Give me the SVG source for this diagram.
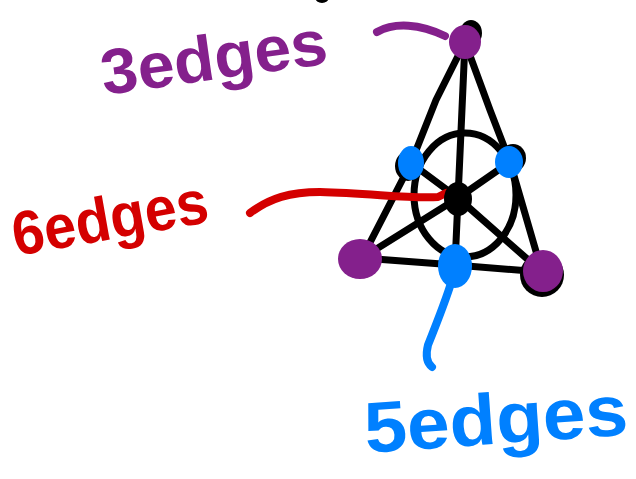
<svg xmlns="http://www.w3.org/2000/svg" width="636" height="479" viewBox="0 0 636 479">
<style>
.edge{fill:none;stroke:#000;stroke-width:7;stroke-linecap:round;stroke-linejoin:round}
.ptr{fill:none;stroke-width:8;stroke-linecap:round;stroke-linejoin:round}
.lbl{font-family:"Liberation Sans",Arial,sans-serif;font-weight:700}
.purple{fill:#84208c}
.blue{fill:#0080ff}
.shadow{fill:#000}
</style>
<rect width="636" height="479" fill="#fff"/>
<g id="connectors">
<ellipse class="edge" cx="465" cy="195" rx="51" ry="62"/>
<path class="edge" d="M465,42 L436,100 L411,163 L362,258"/>
<path class="edge" d="M465,42 L490,110 L510,162 L542,272"/>
<path class="edge" d="M362,258 L455,265 L542,272"/>
<path class="edge" d="M465,42 L458,198 L455,265"/>
<path class="edge" d="M362,258 L458,198 L510,162"/>
<path class="edge" d="M542,272 L458,198 L411,163"/>
<path class="ptr" stroke="#84208c" d="M377,32 C395,22 420,24 445,36"/>
<path class="ptr" stroke="#d40000" d="M250,213 C270,198 290,192 320,192 C370,193 410,199 438,197 L446,193"/>
<path class="ptr" stroke="#0080ff" d="M452,280 C446,300 436,325 428,345 C425,357 427,363 432,367"/>
</g>
<g id="node-top"><ellipse class="shadow" cx="471" cy="33" rx="11" ry="13"/><ellipse class="purple" cx="465" cy="42" rx="16" ry="17"/></g>
<g id="node-left-mid"><ellipse class="shadow" cx="408" cy="166" rx="13" ry="15"/><ellipse class="blue" cx="411" cy="163" rx="13" ry="17"/></g>
<g id="node-right-mid"><ellipse class="shadow" cx="513" cy="158" rx="13" ry="14"/><ellipse class="blue" cx="509" cy="162" rx="14" ry="16"/></g>
<g id="node-center"><ellipse class="shadow" cx="458" cy="199" rx="14" ry="17"/></g>
<g id="node-bottom-left"><ellipse class="purple" cx="360" cy="259" rx="22" ry="20"/></g>
<g id="node-bottom-mid"><ellipse class="blue" cx="455" cy="266" rx="17" ry="22"/></g>
<g id="node-bottom-right"><ellipse class="shadow" cx="542" cy="275" rx="22" ry="22"/><ellipse class="purple" cx="543" cy="271" rx="20" ry="21"/></g>
<ellipse class="shadow" cx="322" cy="-3" rx="7" ry="6"/>
<g id="label-3edges"><text class="lbl" fill="#84208c" x="104" y="95" font-size="64" textLength="228" lengthAdjust="spacingAndGlyphs" transform="rotate(-8 104 95)">3edges</text></g>
<g id="label-6edges"><text class="lbl" fill="#d40000" x="16" y="256" font-size="62" textLength="198" lengthAdjust="spacingAndGlyphs" transform="rotate(-10 16 256)">6edges</text></g>
<g id="label-5edges"><text class="lbl" fill="#0080ff" x="366" y="453" font-size="72" textLength="264" lengthAdjust="spacingAndGlyphs" transform="rotate(-4 366 453)">5edges</text></g>
</svg>
